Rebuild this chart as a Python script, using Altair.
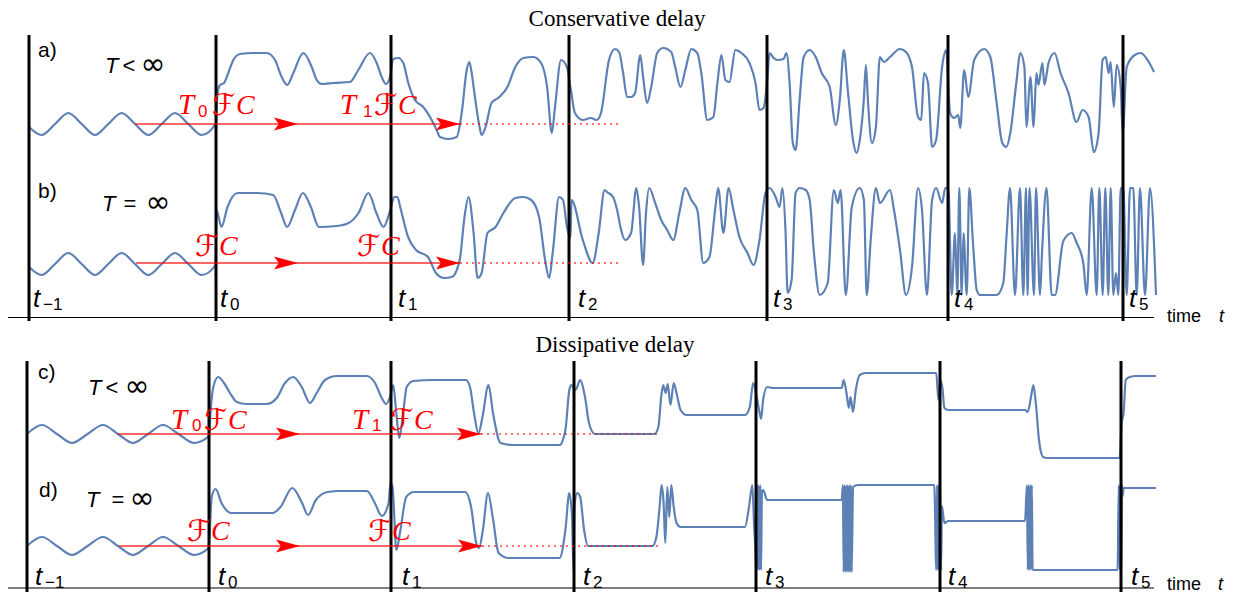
import altair as alt
import pandas as pd

# ---------------- data (time, signal level relative to the row's rest level) ----------------
ROW_A = [(29,-3),(41.7,-11),(55,0),(68.3,11),(81.7,0),(95,-11),(108.3,0),(121.7,11),(135,0),(148.3,-11),
 (161.7,0),(175,11),(188.3,0),(201.7,-11),(216,1),(217.3,29),(220,39),(224,41),(228.3,51),(233.3,64),(240,70),
 (253.3,71),(266.7,71),(275,64),(281.7,47),(287.3,39),(293.3,51),(303.3,71),(311.7,57),(316.7,44),(321.7,40),
 (333.3,41),(350,42),(358.3,54),(370,71),(376.7,61),(381.7,47),(386,40),(390,47),(393.3,65),(398.3,66),
 (403.3,61),(408.3,41),(415,24),(423.3,17),(430,7),(436.7,-6),(440,-13),(448.3,-15),(456.7,-13),(461.7,11),
 (466.7,54),(469.3,62),(471.7,51),(473.6,37),(479.6,-3),(481.6,-11),(485.6,-3),(491.5,21),(499.4,27),
 (507.4,37),(515.3,57),(523.3,66),(533.2,67),(541.1,61),(547.1,37),(551.8,-9),(555,17),(561,64),(566.9,57),
 (570.9,34),(574.9,11),(582.8,4),(590.8,6),(596.7,4),(601,11),(609,64),(615,75),(619.1,72),(623.1,51),
 (627.1,27),(631.1,27),(635.1,31),(640.3,69),(643.1,47),(647.1,21),(651.2,37),(657.2,71),(663.2,76),
 (671.2,72),(675.2,57),(680.5,37),(685.3,54),(691.3,75),(697.3,71),(701.3,51),(707.3,4),(713.4,7),
 (717.4,41),(721.4,69),(725.4,44),(729.4,42),(735.4,74),(741.5,71),(749.5,61),(755.5,41),(759.5,14),
 (763.5,16),(767.5,47),(769.5,71),(773.6,66),(777.6,64),(783.6,65),(786.4,71),(789.6,41),(792.8,-19),
 (795.6,-26),(799.6,24),(803.7,67),(809.7,74),(815.7,67),(821.7,51),(829.7,37),(835.8,-1),(839.8,24),
 (843.8,74),(847.8,34),(853,-16),(856.6,-29),(859.8,-16),(863.8,24),(865.9,59),(867.9,24),(871.9,-19),
 (875.9,-3),(879.9,67),(883.9,62),(890,67),(900,75),(906,72),(912,57),(918,7),(921.2,4),(924,51),(928,41),
 (932.1,-23),(936.1,-16),(942.1,57),(946.1,74),(950.1,11),(954.1,6),(958.2,9),(960.2,-4),(964.2,54),
 (968.2,27),(974.2,64),(984.2,75),(990.3,67),(996.3,24),(1002.3,-19),(1006.3,-23),(1010.3,-9),(1016.3,41),
 (1020.4,71),(1024.4,57),(1026.4,-3),(1030.4,47),(1033.6,-3),(1036.4,51),(1038.4,39),(1042.4,61),
 (1044.4,39),(1048.5,61),(1054.5,71),(1060.5,51),(1068.5,31),(1076.5,2),(1082.6,14),(1088.6,7),
 (1093.8,-28),(1098.6,-9),(1102.6,64),(1105.8,67),(1108.6,51),(1110.6,62),(1113.8,17),(1116.7,59),
 (1120.7,37),(1122.7,-8),(1126.7,57),(1134.7,69),(1140.7,71),(1148.8,62),(1154,52)]

ROW_B = [(29,-4),(41.7,-12),(55,-1),(68.3,10),(81.7,-1),(95,-12),(108.3,-1),(121.7,10),(135,-1),(148.3,-12),
 (161.7,-1),(175,10),(188.3,-1),(201.7,-12),(215.5,-2),(216.5,53),(221.5,36),(227.5,56),(237.4,70),
 (257.3,70),(273.2,68),(281.1,50),(287.1,36),(295,53),(302.9,70),(310.9,56),(318.8,36),(336.7,37),
 (348.6,40),(358.5,50),(368.4,70),(376.4,50),(383.5,36),(390.3,53),(394.2,66),(397.4,66),(400.2,56),
 (408.1,26),(416,13),(428,6),(435.9,-10),(443.9,-15),(451.8,-14),(459.7,3),(464.5,46),(468.5,66),
 (473.6,30),(477.6,-15),(481.6,-10),(487.5,30),(495.5,36),(503.4,50),(515.3,65),(523.3,66),(531.2,63),
 (539.1,46),(545.1,3),(549.1,-15),(553,13),(559,66),(563,63),(567,36),(570.5,25),(571.5,63),(582.8,23),
 (592.7,0),(598.7,30),(604.6,73),(607,71),(613,66),(617.1,53),(621.1,33),(625.1,23),(631.1,30),(636.3,75),
 (639.1,56),(643.1,-2),(646,50),(649.2,75),(655.2,60),(661.2,43),(667.2,33),(673.2,23),(679.3,50),
 (685.3,75),(691.3,63),(697.3,53),(703.3,0),(709.4,6),(715.4,56),(718.2,75),(723.4,30),(728.6,75),
 (733.4,53),(739.4,26),(747.5,10),(753.5,-2),(759.5,23),(765.5,70),(769.5,75),(775.6,66),(779.6,56),
 (782.4,75),(785.6,30),(787.6,-30),(791.6,-17),(795.6,70),(799.6,75),(805.7,73),(809.7,63),(813.7,13),
 (819.7,-32),(827.7,-20),(833.8,73),(837.8,60),(840.6,73),(845.8,-32),(851.8,56),(859.8,75),(863.9,63),
 (866.7,-32),(870.7,23),(875.9,75),(879.9,60),(890,73),(894,53),(900,13),(906,-32),(912,-4),(918,75),
 (922,53),(926.9,-32),(932.1,63),(936.1,75),(942.1,60),(945.3,75),(948.3,75),(951.7,-32),(955,30),
 (957.3,-32),(959.3,75),(961.7,-32),(963.5,30),(966.7,-32),(969.3,75),(973,20),(976.7,-27),(980,-32),
 (996.7,-32),(1003.3,-20),(1006.7,30),(1010,75),(1015,-32),(1020,75),(1023.3,-32),(1026,75),(1027.6,-32),
 (1029.5,75),(1034,-32),(1036,75),(1040,-32),(1042,10),(1046.5,75),(1051.7,-32),(1055,-32),(1063.3,22),
 (1071.7,30),(1076.7,20),(1083.3,0),(1086.7,-32),(1091.7,75),(1096.7,-32),(1099.3,75),(1102.7,-32),
 (1105.3,75),(1108.3,-32),(1110.7,75),(1113.3,-32),(1116,-10),(1118.3,-32),(1120.7,75),(1123.3,75),
 (1126.7,-32),(1130,75),(1133.3,75),(1136.7,-32),(1140,75),(1145,-32),(1150,75),(1156,-32)]

ROW_C = [(27,0),(42,9),(57,0),(72,-9),(87.5,0),(103,9),(118,0),(133,-9),(148,0),(163,9),(178.5,0),(194,-9),
 (209,-2),(210.7,24),(213.3,47),(218.3,57),(223.3,52),(230,41),(236.7,32),(246.7,30),(266.7,30),(276.7,36),
 (285,51),(293.3,57),(301.7,47),(310,31),(316.7,41),(325,54),(336.7,58),(366.7,58),(375,51),(381.7,36),
 (386,30),(390,37),(393.3,49),(396,24),(399.3,-4),(402.7,17),(406.7,47),(413.3,53),(433.3,54),(466,54),
 (470,47),(474,21),(478.5,1),(482.5,17),(488.5,49),(493,21),(500.6,-9),(512.4,-11),(559.5,-11),(565.4,4),
 (569.3,44),(571.3,49),(575.2,44),(577.2,47),(580,54),(585,37),(589,11),(594.9,0),(654.4,0),(658.4,7),
 (661.2,37),(663.2,49),(665.7,41),(667.7,50),(670.5,29),(673.7,51),(676.5,41),(680.6,24),(686.6,19),
 (745,19),(749.8,27),(753.1,51),(756.3,39),(759.1,24),(761.1,15),(763.1,34),(767.2,47),(773.2,46),
 (841.7,46),(843.7,54),(846.5,41),(848.9,26),(850.5,37),(853,22),(855.8,44),(859.8,59),(865.8,61),
 (936.3,61),(938.4,34),(940.4,54),(942.4,46),(944.4,26),(948.4,24),(1025,24),(1027.8,22),(1031,37),
 (1033.4,49),(1035.8,31),(1039,-6),(1043.1,-23),(1047.1,-24),(1119.6,-24),(1121.6,11),(1123.6,21),
 (1125.7,54),(1129.7,57),(1135.7,58),(1155.9,58)]

ROW_D = [(27,0),(42,9),(57,0),(72,-9),(87.5,0),(103,9),(118,0),(133,-9),(148,0),(163,9),(178.5,0),(194,-9),
 (208.5,-2),(209.5,9),(211.7,49),(215.6,57),(221.5,43),(231.4,33),(272.6,33),(280.5,39),(292.3,58),
 (302.1,43),(308,31),(315.9,46),(327.6,54),(339.4,55),(366.9,55),(374.8,43),(381.9,30),(388.6,43),
 (390.5,63),(392.5,59),(396.4,-4),(400.4,16),(406.2,49),(414.1,54),(465.2,54),(471.1,39),(476.2,3),
 (479,-2),(482.9,16),(488,53),(492.7,29),(498.6,-7),(508.4,-12),(559.5,-12),(565.4,16),(569.3,53),(572,30),
 (573.5,-24),(574.5,40),(577.2,53),(580.2,49),(584.1,16),(588,0),(652.4,0),(656.4,9),(659.6,39),(661.6,61),
 (663.6,43),(665.3,3),(667.3,59),(669.3,29),(671.3,61),(673.7,39),(676.5,23),(680.6,19),(745,19),(749,39),
 (752.3,61),(754.3,16),(755.1,3),(756.3,-24),(757.1,61),(757.9,-24),(758.7,61),(759.5,-24),(760.3,61),
 (761.1,-24),(761.9,55),(763.1,56),(767.2,46),(841.7,46),(842.9,61),(843.7,-26),(844.5,61),(845.3,-26),
 (846.1,61),(846.9,-26),(847.7,61),(848.5,-26),(849.3,61),(850.1,-26),(850.9,61),(851.7,-26),(853,59),
 (857.8,61),(934.3,61),(936.3,-24),(937.1,61),(937.9,-24),(938.7,61),(939.5,-24),(940.3,50),(941.1,-24),
 (941.9,40),(944.4,23),(948.4,25),(1025,25),(1027,61),(1027.8,-24),(1028.6,61),(1029.4,-24),(1030.2,61),
 (1031,-24),(1031.8,61),(1032.6,-24),(1035,-24),(1117.6,-24),(1118.8,61),(1119.6,-24),(1120.4,61),
 (1121.2,-24),(1122,61),(1122.8,50),(1123.6,58),(1155.9,58)]

# instants t_-1 ... t_5 in each panel
TICKS_TOP = [29, 216, 391, 569, 767, 948, 1123]
TICKS_BOT = [27, 209, 391, 574, 756, 940, 1121]
TICK_SUBS = ["\u22121", "0", "1", "2", "3", "4", "5"]

# red arrows per row: start, first tip, second tip, end of dotted continuation
ARROW_ROWS = ["a", "b", "c", "d"]
ARROW_START = [135, 136, 118, 119]
ARROW_TIP1 = [298, 298, 300, 300]
ARROW_TIP2 = [460, 460, 481, 482]
ARROW_END = [620, 620, 658, 658]

# ---------------- layout ----------------
BASE = {"a": 124, "b": 263, "c": 434, "d": 546}
BLUE = "#5E81B5"
RED = "#FF0000"

frames = []
for name, pts in [("a", ROW_A), ("b", ROW_B), ("c", ROW_C), ("d", ROW_D)]:
    df = pd.DataFrame(pts, columns=["t", "v"])
    df["row"] = name
    frames.append(df)
curves = pd.concat(frames, ignore_index=True)
curves["y"] = curves["row"].map(BASE) - curves["v"]

XS = alt.Scale(domain=[8, 1225], nice=False, zero=False)
YS = alt.Scale(domain=[8, 595], reverse=True, nice=False, zero=False)


def X(f):
    return alt.X(f, type="quantitative", scale=XS, axis=None)


def Y(f):
    return alt.Y(f, type="quantitative", scale=YS, axis=None)


lines = alt.Chart(curves).mark_line(color=BLUE, strokeWidth=2.2, interpolate="monotone").encode(
    x=X("t"), y=Y("y"), detail="row:N", order="t:Q")

vl = pd.DataFrame({
    "t": TICKS_TOP + TICKS_BOT,
    "y1": [35] * 7 + [361] * 7,
    "y2": [321] * 7 + [592] * 7,
})
vrules = alt.Chart(vl).mark_rule(color="black", strokeWidth=3).encode(x=X("t"), y=Y("y1"), y2="y2:Q")

axl = pd.DataFrame({"t1": [8, 8], "t2": [1154, 1154], "y": [317.5, 588]})
axrules = alt.Chart(axl).mark_rule(color="black", strokeWidth=1.2).encode(x=X("t1"), x2="t2:Q", y=Y("y"))

ar = pd.DataFrame({"row": ARROW_ROWS, "s": ARROW_START, "p1": ARROW_TIP1, "p2": ARROW_TIP2, "e": ARROW_END})
ar["y"] = ar["row"].map(BASE)
arrow_line = alt.Chart(ar).mark_rule(color=RED, strokeWidth=1.3, opacity=0.8).encode(
    x=X("s"), x2="p2:Q", y=Y("y"))
arrow_dots = alt.Chart(ar).mark_rule(color=RED, strokeWidth=1.3, strokeDash=[2, 4], opacity=0.75).encode(
    x=X("p2"), x2="e:Q", y=Y("y"))
heads = pd.DataFrame({
    "tc": [p - 12 for p in ARROW_TIP1 + ARROW_TIP2],
    "y": [BASE[r] for r in ARROW_ROWS] * 2,
})
arrow_heads = alt.Chart(heads).mark_point(
    shape="M1,0L-1,-0.55L-0.6,0L-1,0.55Z", filled=True, color=RED, size=576, opacity=1, strokeWidth=0
).encode(x=X("tc"), y=Y("y"))


def text_layer(df, **kw):
    base = dict(align="left", baseline="alphabetic", color="black", font="Liberation Sans")
    base.update(kw)
    return alt.Chart(df).mark_text(**base).encode(x=X("x"), y=Y("y"), text="s:N")


titles = text_layer(pd.DataFrame({"x": [617, 615], "y": [26, 352],
                                  "s": ["Conservative delay", "Dissipative delay"]}),
                    align="center", font="Liberation Serif", fontSize=23)

letters = text_layer(pd.DataFrame({"x": [38, 38, 38, 39], "y": [57, 198, 379, 497],
                                   "s": ["a)", "b)", "c)", "d)"]}), fontSize=21)

Tit = text_layer(pd.DataFrame({"x": [105, 102, 88, 86], "y": [73, 211, 395, 507], "s": ["T"] * 4}),
                 fontSize=22, fontStyle="italic")
rel = text_layer(pd.DataFrame({"x": [129, 130, 112, 118], "y": [73, 211, 395, 507],
                               "s": ["<", "=", "<", "="]}), align="center", fontSize=22)
inf = text_layer(pd.DataFrame({"x": [153, 158, 137, 142], "y": [74, 212, 396, 508], "s": ["\u221e"] * 4}),
                 align="center", fontSize=30, font="DejaVu Sans")

tl_x = [33, 220, 398, 578, 773, 954, 1129] + [35, 218, 402, 583, 765, 948, 1131]
tl_y = [307] * 7 + [585] * 7
tnames = text_layer(pd.DataFrame({"x": tl_x, "y": tl_y, "s": ["t"] * 14}), fontSize=26, fontStyle="italic")
tsubs = text_layer(pd.DataFrame({"x": [x + 10 for x in tl_x], "y": [y + 3 for y in tl_y],
                                 "s": TICK_SUBS * 2}), fontSize=17)

timelab = text_layer(pd.DataFrame({"x": [1167, 1167], "y": [322, 590], "s": ["time", "time"]}), fontSize=18)
tlab = text_layer(pd.DataFrame({"x": [1219, 1218], "y": [322, 590], "s": ["t", "t"]}),
                  fontSize=18, fontStyle="italic")

# red operator labels  T_k F C
F_X = [212, 374, 204, 390, 195, 357, 187, 368]
F_Y = [115, 115, 430, 430, 256, 256, 541, 541]
calT = text_layer(pd.DataFrame({"x": [178, 340, 171, 352], "y": [114, 114, 429, 429], "s": ["T"] * 4}),
                  color=RED, font="Liberation Serif", fontStyle="italic", fontSize=29)
calSub = text_layer(pd.DataFrame({"x": [198, 363, 192, 372], "y": [117, 117, 431, 431],
                                  "s": ["0", "1", "0", "1"]}), color=RED, fontSize=17)
calF = text_layer(pd.DataFrame({"x": F_X, "y": F_Y, "s": ["\u2131"] * 8}),
                  color=RED, font="DejaVu Sans", fontSize=30)
calC = text_layer(pd.DataFrame({"x": [x + 24 for x in F_X], "y": [y - 1 for y in F_Y], "s": ["C"] * 8}),
                  color=RED, font="Liberation Serif", fontStyle="italic", fontSize=28)

chart = alt.layer(
    lines, vrules, axrules, arrow_line, arrow_dots, arrow_heads,
    titles, letters, Tit, rel, inf, tnames, tsubs, timelab, tlab, calT, calSub, calF, calC
).properties(
    width=1217, height=587, padding=0, background="white",
    autosize=alt.AutoSizeParams(type="none")
).configure_view(strokeWidth=0)

chart.save("out.html", embed_options={"renderer": "svg", "actions": False})
